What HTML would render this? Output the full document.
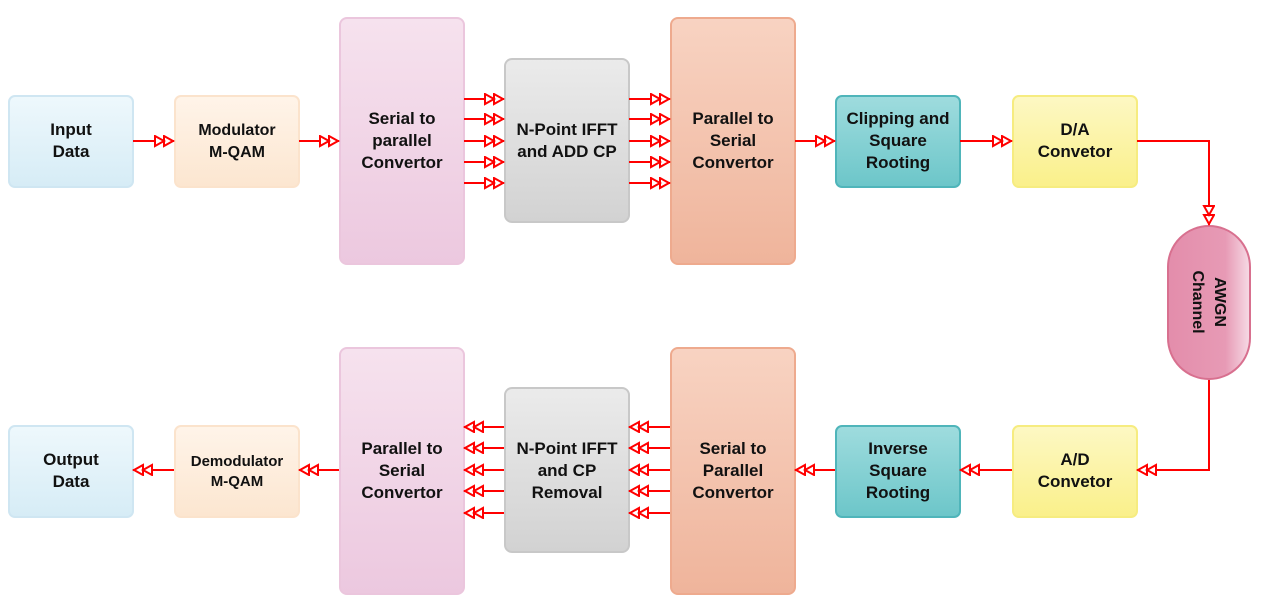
<!DOCTYPE html>
<html><head><meta charset="utf-8"><style>
html,body{margin:0;padding:0;background:#fff;}
svg{display:block;}
text{font-family:"Liberation Sans",Arial,sans-serif;font-weight:bold;font-size:17px;fill:#111;text-anchor:middle;}
</style></head><body>
<svg width="1271" height="613" viewBox="0 0 1271 613" xmlns="http://www.w3.org/2000/svg">
<defs>
<marker id="a" markerUnits="userSpaceOnUse" markerWidth="24" markerHeight="14" refX="20" refY="6" orient="auto">
<path d="M1,1 L10,6 L1,11 Z M10,1 L19,6 L10,11 Z" fill="#fff" stroke="#f00" stroke-width="2"/>
</marker>
<linearGradient id="gb" x1="0" y1="0" x2="0" y2="1"><stop offset="0" stop-color="#eef8fc"/><stop offset="1" stop-color="#d6ecf6"/></linearGradient>
<linearGradient id="go" x1="0" y1="0" x2="0" y2="1"><stop offset="0" stop-color="#fff4e9"/><stop offset="1" stop-color="#fce6d0"/></linearGradient>
<linearGradient id="gp" x1="0" y1="0" x2="0" y2="1"><stop offset="0" stop-color="#f6e2ee"/><stop offset="1" stop-color="#ecc8df"/></linearGradient>
<linearGradient id="gg" x1="0" y1="0" x2="0" y2="1"><stop offset="0" stop-color="#ebebeb"/><stop offset="1" stop-color="#d2d2d2"/></linearGradient>
<linearGradient id="gs" x1="0" y1="0" x2="0" y2="1"><stop offset="0" stop-color="#f8d3c2"/><stop offset="1" stop-color="#efb49b"/></linearGradient>
<linearGradient id="gt" x1="0" y1="0" x2="0" y2="1"><stop offset="0" stop-color="#9fdcde"/><stop offset="1" stop-color="#6cc6c9"/></linearGradient>
<linearGradient id="gy" x1="0" y1="0" x2="0" y2="1"><stop offset="0" stop-color="#fdf8c4"/><stop offset="1" stop-color="#faf08a"/></linearGradient>
<linearGradient id="gk" x1="0" y1="0" x2="1" y2="0"><stop offset="0" stop-color="#e38dab"/><stop offset="0.7" stop-color="#e79ab5"/><stop offset="1" stop-color="#f6dbe6"/></linearGradient>
</defs>

<rect x="9" y="96" width="124" height="91" rx="6" fill="url(#gb)" stroke="#cfe6f2" stroke-width="2"/>
<rect x="175" y="96" width="124" height="91" rx="6" fill="url(#go)" stroke="#fbe3cc" stroke-width="2"/>
<rect x="340" y="18" width="124" height="246" rx="7" fill="url(#gp)" stroke="#ebc6dd" stroke-width="2"/>
<rect x="505" y="59" width="124" height="163" rx="7" fill="url(#gg)" stroke="#c8c8c8" stroke-width="2"/>
<rect x="671" y="18" width="124" height="246" rx="7" fill="url(#gs)" stroke="#eeaa8e" stroke-width="2"/>
<rect x="836" y="96" width="124" height="91" rx="6" fill="url(#gt)" stroke="#4fb5ba" stroke-width="2"/>
<rect x="1013" y="96" width="124" height="91" rx="6" fill="url(#gy)" stroke="#f6ec80" stroke-width="2"/>

<rect x="9" y="426" width="124" height="91" rx="6" fill="url(#gb)" stroke="#cfe6f2" stroke-width="2"/>
<rect x="175" y="426" width="124" height="91" rx="6" fill="url(#go)" stroke="#fbe3cc" stroke-width="2"/>
<rect x="340" y="348" width="124" height="246" rx="7" fill="url(#gp)" stroke="#ebc6dd" stroke-width="2"/>
<rect x="505" y="388" width="124" height="164" rx="7" fill="url(#gg)" stroke="#c8c8c8" stroke-width="2"/>
<rect x="671" y="348" width="124" height="246" rx="7" fill="url(#gs)" stroke="#eeaa8e" stroke-width="2"/>
<rect x="836" y="426" width="124" height="91" rx="6" fill="url(#gt)" stroke="#4fb5ba" stroke-width="2"/>
<rect x="1013" y="426" width="124" height="91" rx="6" fill="url(#gy)" stroke="#f6ec80" stroke-width="2"/>

<rect x="1168" y="226" width="82" height="153" rx="41" fill="url(#gk)" stroke="#d8708f" stroke-width="2"/>

<g stroke="#f00" stroke-width="2" fill="none" marker-end="url(#a)">
<line x1="133" y1="141" x2="174" y2="141"/>
<line x1="299" y1="141" x2="339" y2="141"/>
<line x1="464" y1="99" x2="504" y2="99"/>
<line x1="464" y1="119" x2="504" y2="119"/>
<line x1="464" y1="141" x2="504" y2="141"/>
<line x1="464" y1="162" x2="504" y2="162"/>
<line x1="464" y1="183" x2="504" y2="183"/>
<line x1="629" y1="99" x2="670" y2="99"/>
<line x1="629" y1="119" x2="670" y2="119"/>
<line x1="629" y1="141" x2="670" y2="141"/>
<line x1="629" y1="162" x2="670" y2="162"/>
<line x1="629" y1="183" x2="670" y2="183"/>
<line x1="795" y1="141" x2="835" y2="141"/>
<line x1="960" y1="141" x2="1012" y2="141"/>
<polyline points="1137,141 1209,141 1209,225"/>
<polyline points="1209,380 1209,470 1137,470"/>
<line x1="1012" y1="470" x2="960" y2="470"/>
<line x1="835" y1="470" x2="795" y2="470"/>
<line x1="670" y1="427" x2="629" y2="427"/>
<line x1="670" y1="448" x2="629" y2="448"/>
<line x1="670" y1="470" x2="629" y2="470"/>
<line x1="670" y1="491" x2="629" y2="491"/>
<line x1="670" y1="513" x2="629" y2="513"/>
<line x1="504" y1="427" x2="464" y2="427"/>
<line x1="504" y1="448" x2="464" y2="448"/>
<line x1="504" y1="470" x2="464" y2="470"/>
<line x1="504" y1="491" x2="464" y2="491"/>
<line x1="504" y1="513" x2="464" y2="513"/>
<line x1="339" y1="470" x2="299" y2="470"/>
<line x1="174" y1="470" x2="133" y2="470"/>
</g>

<text x="71" y="135">Input</text><text x="71" y="157">Data</text>
<text x="237" y="135" style="font-size:16px">Modulator</text><text x="237" y="157" style="font-size:16px">M-QAM</text>
<text x="402" y="124">Serial to</text><text x="402" y="146">parallel</text><text x="402" y="168">Convertor</text>
<text x="567" y="135">N-Point IFFT</text><text x="567" y="157">and ADD CP</text>
<text x="733" y="124">Parallel to</text><text x="733" y="146">Serial</text><text x="733" y="168">Convertor</text>
<text x="898" y="124">Clipping and</text><text x="898" y="146">Square</text><text x="898" y="168">Rooting</text>
<text x="1075" y="135">D/A</text><text x="1075" y="157">Convetor</text>

<text x="71" y="465">Output</text><text x="71" y="487">Data</text>
<text x="237" y="466" style="font-size:15px">Demodulator</text><text x="237" y="486" style="font-size:15px">M-QAM</text>
<text x="402" y="454">Parallel to</text><text x="402" y="476">Serial</text><text x="402" y="498">Convertor</text>
<text x="567" y="454">N-Point IFFT</text><text x="567" y="476">and  CP</text><text x="567" y="498">Removal</text>
<text x="733" y="454">Serial to</text><text x="733" y="476">Parallel</text><text x="733" y="498">Convertor</text>
<text x="898" y="454">Inverse</text><text x="898" y="476">Square</text><text x="898" y="498">Rooting</text>
<text x="1075" y="465">A/D</text><text x="1075" y="487">Convetor</text>

<g transform="translate(1209,302) rotate(90)">
<text x="0" y="-6" style="font-size:16px">AWGN</text>
<text x="0" y="16" style="font-size:16px">Channel</text>
</g>
</svg>
</body></html>
